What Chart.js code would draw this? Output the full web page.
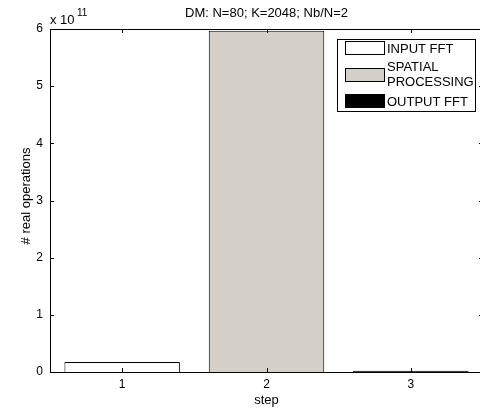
<!DOCTYPE html>
<html>
<head>
<meta charset="utf-8">
<script src="https://cdn.jsdelivr.net/npm/chart.js@4"></script>
<style>
  html, body { margin: 0; padding: 0; background: #fff; overflow: hidden; }
  #wrap { width: 484px; height: 408px; }
</style>
</head>
<body>
<div id="wrap"><canvas id="opsChart" width="484" height="408"></canvas></div>
<script>
// values
const steps = ['1', '2', '3'];
const realOps = [1.75e10, 5.97e11, 2.0e9];
const stepNames = ['INPUT FFT', 'SPATIAL\nPROCESSING', 'OUTPUT FFT'];
const barColors = ['#ffffff', '#d4d0c8', '#000000'];
const yTicks = [0, 1, 2, 3, 4, 5, 6];

const FONT = '"Liberation Sans", Arial, sans-serif';

// matlab-ish frame: box, inward ticks, exponent, title, labels, legend
const matlabDecor = {
  id: 'matlabDecor',
  afterDraw(chart) {
    const ctx = chart.ctx;
    const a = chart.chartArea;
    const xs = chart.scales.x, ys = chart.scales.y;
    ctx.save();
    ctx.strokeStyle = '#000';
    ctx.lineWidth = 1;
    ctx.strokeRect(Math.round(a.left) + 0.5, Math.round(a.top) + 0.5,
      Math.round(a.right - a.left), Math.round(a.bottom - a.top));

    ctx.beginPath();
    yTicks.forEach(t => {
      const y = Math.round(ys.getPixelForValue(t * 1e11)) + 0.5;
      ctx.moveTo(a.left, y); ctx.lineTo(a.left + 4, y);
      ctx.moveTo(a.right, y); ctx.lineTo(a.right - 4, y);
    });
    steps.forEach((s, i) => {
      const x = Math.round(xs.getPixelForValue(i)) + 0.5;
      ctx.moveTo(x, a.bottom); ctx.lineTo(x, a.bottom - 4);
      ctx.moveTo(x, a.top); ctx.lineTo(x, a.top + 4);
    });
    ctx.stroke();

    ctx.fillStyle = '#000';
    ctx.textBaseline = 'alphabetic';
    // exponent
    ctx.font = '13px ' + FONT;
    ctx.textAlign = 'left';
    ctx.fillText('x 10', a.left, a.top - 5);
    ctx.font = '10px ' + FONT;
    ctx.fillText('11', a.left + 27, a.top - 13);

    // title
    ctx.font = '13px ' + FONT;
    ctx.textAlign = 'center';
    ctx.fillText('DM: N=80; K=2048; Nb/N=2', (a.left + a.right) / 2, 17);

    // x label
    ctx.fillText('step', (a.left + a.right) / 2, 404);

    // y label
    ctx.save();
    ctx.translate(30, 196);
    ctx.rotate(-Math.PI / 2);
    ctx.fillText('# real operations', 0, 0);
    ctx.restore();

    // legend
    const lx = 337, ly = 39, lw = 138, lh = 72;
    ctx.fillStyle = '#fff';
    ctx.fillRect(lx, ly, lw, lh);
    ctx.strokeRect(lx + 0.5, ly + 0.5, lw, lh);
    const swY = [41, 68, 94];
    ctx.textAlign = 'left';
    ctx.font = '13px ' + FONT;
    stepNames.forEach((name, i) => {
      ctx.fillStyle = barColors[i];
      ctx.fillRect(345, swY[i], 39, 13);
      ctx.strokeRect(345.5, swY[i] + 0.5, 39, 13);
      ctx.fillStyle = '#000';
      const lines = name.split('\n');
      if (lines.length === 1) {
        ctx.fillText(lines[0], 387, swY[i] + 12);
      } else {
        ctx.fillText(lines[0], 387, swY[i] + 3);
        ctx.fillText(lines[1], 387, swY[i] + 18);
      }
    });
    ctx.restore();
  }
};

new Chart(document.getElementById('opsChart'), {
  type: 'bar',
  data: {
    labels: steps,
    datasets: [{
      label: '# real operations',
      data: realOps,
      backgroundColor: barColors,
      borderColor: '#000',
      borderWidth: 1,
      barPercentage: 0.8,
      categoryPercentage: 1.0
    }]
  },
  options: {
    responsive: false,
    animation: false,
    layout: { padding: { top: 29, right: 1, left: 0, bottom: 0 } },
    plugins: {
      legend: { display: false },
      tooltip: { enabled: false }
    },
    scales: {
      x: {
        grid: { display: false, drawTicks: false },
        border: { display: false },
        ticks: { color: '#000', font: { family: FONT, size: 12 }, padding: 5 },
        afterFit: s => { s.height = 36; }
      },
      y: {
        min: 0,
        max: 6e11,
        grid: { display: false, drawTicks: false },
        border: { display: false },
        ticks: {
          stepSize: 1e11,
          color: '#000',
          font: { family: FONT, size: 12 },
          padding: 7,
          callback: v => String(Math.round(v / 1e11))
        },
        afterFit: s => { s.width = 50; }
      }
    }
  },
  plugins: [matlabDecor]
});
</script>
</body>
</html>
